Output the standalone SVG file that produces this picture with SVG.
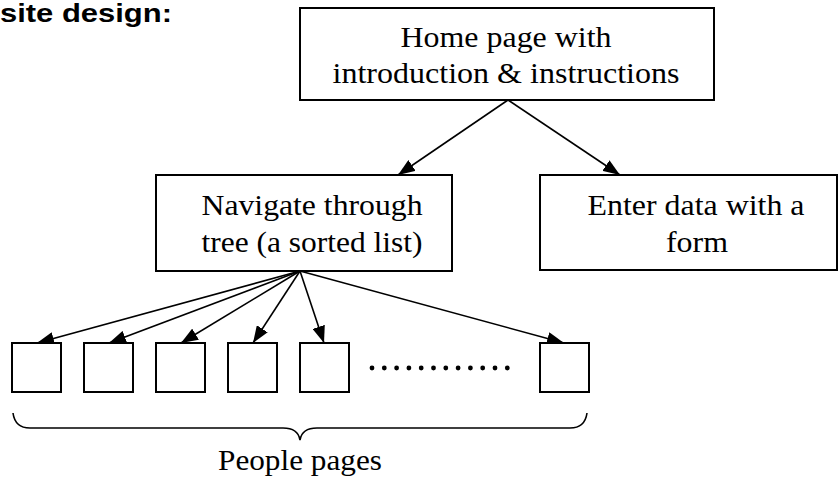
<svg xmlns="http://www.w3.org/2000/svg" width="840" height="482" viewBox="0 0 840 482">
<style>
.box{fill:#fff;stroke:#000;stroke-width:2}
.t{font-family:"Liberation Serif","Times New Roman",Times,serif;font-size:29px;fill:#000;text-anchor:middle}
.ttl{font-family:"Liberation Sans",Arial,sans-serif;font-size:25px;font-weight:bold;fill:#000}
.ln{stroke:#000;stroke-width:1.6;fill:none;marker-end:url(#ah)}
</style>
<defs>
<marker id="ah" markerUnits="userSpaceOnUse" markerWidth="17" markerHeight="13" refX="17" refY="6.5" orient="auto">
<path d="M0,0 L17,6.5 L0,13 Z" fill="#000"/>
</marker>
</defs>
<rect width="840" height="482" fill="#fff"/>
<text class="ttl" x="0" y="22" textLength="172" lengthAdjust="spacingAndGlyphs">site design:</text>
<g id="connectors">
<line class="ln" x1="508" y1="100" x2="398" y2="175"/>
<line class="ln" x1="508" y1="100" x2="620" y2="175"/>
<line class="ln" x1="300" y1="271" x2="37" y2="343"/>
<line class="ln" x1="300" y1="271" x2="109" y2="343"/>
<line class="ln" x1="300" y1="271" x2="181" y2="343"/>
<line class="ln" x1="300" y1="271" x2="253" y2="343"/>
<line class="ln" x1="300" y1="271" x2="324" y2="343"/>
<line class="ln" x1="300" y1="271" x2="564" y2="343"/>
</g>
<g id="home">
<rect class="box" x="300" y="8" width="414" height="92"/>
<text class="t" x="506" y="47" textLength="211" lengthAdjust="spacingAndGlyphs">Home page with</text>
<text class="t" x="506" y="83" textLength="347" lengthAdjust="spacingAndGlyphs">introduction &amp; instructions</text>
</g>
<g id="navigate">
<rect class="box" x="156" y="175" width="296" height="96"/>
<text class="t" x="312" y="215" textLength="221" lengthAdjust="spacingAndGlyphs">Navigate through</text>
<text class="t" x="312" y="252" textLength="221" lengthAdjust="spacingAndGlyphs">tree (a sorted list)</text>
</g>
<g id="enter">
<rect class="box" x="540" y="175" width="297" height="95"/>
<text class="t" x="696" y="215" textLength="217" lengthAdjust="spacingAndGlyphs">Enter data with a</text>
<text class="t" x="697" y="252" textLength="62" lengthAdjust="spacingAndGlyphs">form</text>
</g>
<g id="page1"><rect class="box" x="12" y="343" width="49" height="49"/></g>
<g id="page2"><rect class="box" x="84" y="343" width="49" height="49"/></g>
<g id="page3"><rect class="box" x="156" y="343" width="49" height="49"/></g>
<g id="page4"><rect class="box" x="228" y="343" width="49" height="49"/></g>
<g id="page5"><rect class="box" x="300" y="343" width="49" height="49"/></g>
<g id="pageN"><rect class="box" x="540" y="343" width="49" height="49"/></g>
<g id="dots" fill="#000">
<circle cx="372" cy="368" r="2.4"/><circle cx="384.3" cy="368" r="2.4"/><circle cx="396.6" cy="368" r="2.4"/><circle cx="408.9" cy="368" r="2.4"/><circle cx="421.2" cy="368" r="2.4"/><circle cx="433.5" cy="368" r="2.4"/><circle cx="445.8" cy="368" r="2.4"/><circle cx="458.1" cy="368" r="2.4"/><circle cx="470.4" cy="368" r="2.4"/><circle cx="482.7" cy="368" r="2.4"/><circle cx="495" cy="368" r="2.4"/><circle cx="507.3" cy="368" r="2.4"/>
</g>
<g id="brace">
<path d="M13,413 Q15,428 30,428 L283,428 Q298,428 300,440 Q302,428 317,428 L570,428 Q585,428 587,413" fill="none" stroke="#000" stroke-width="1.6"/>
<text class="t" x="300" y="470" textLength="164" lengthAdjust="spacingAndGlyphs">People pages</text>
</g>
</svg>
